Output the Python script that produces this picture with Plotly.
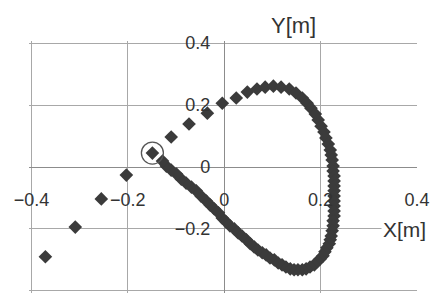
import plotly.graph_objects as go

# ---- data (metres) ----
x_m = [-0.371, -0.309, -0.255, -0.203, -0.149, -0.110, -0.073, -0.035, -0.004, 0.025, 0.048,
       0.068, 0.085, 0.102, 0.118, 0.135, 0.149, 0.162, 0.172, 0.180, 0.189, 0.195, 0.201,
       0.207, 0.211, 0.216, 0.220, 0.222, 0.224, 0.226, 0.226, 0.228, 0.228, 0.228, 0.228,
       0.228, 0.228, 0.228, 0.228, 0.228, 0.226, 0.226, 0.224, 0.222, 0.220, 0.218, 0.213,
       0.209, 0.205, 0.199, 0.193, 0.187, 0.178, 0.170, 0.162, 0.153, 0.145, 0.137, 0.128,
       0.120, 0.112, 0.104, 0.095, 0.087, 0.079, 0.070, 0.062, 0.054, 0.046, 0.037, 0.029,
       0.021, 0.012, 0.004, -0.004, -0.012, -0.021, -0.029, -0.037, -0.048, -0.058, -0.068,
       -0.079, -0.089, -0.099, -0.110, -0.120, -0.128]
y_m = [-0.290, -0.194, -0.103, -0.026, 0.045, 0.097, 0.139, 0.174, 0.206, 0.223, 0.242,
       0.252, 0.258, 0.261, 0.258, 0.252, 0.239, 0.223, 0.206, 0.190, 0.171, 0.152, 0.132,
       0.113, 0.094, 0.074, 0.055, 0.039, 0.023, 0.003, -0.013, -0.029, -0.045, -0.061, -0.077,
       -0.094, -0.110, -0.126, -0.142, -0.158, -0.174, -0.190, -0.206, -0.223, -0.235, -0.248,
       -0.261, -0.274, -0.287, -0.297, -0.306, -0.316, -0.323, -0.329, -0.332, -0.332, -0.332,
       -0.329, -0.323, -0.316, -0.310, -0.300, -0.294, -0.284, -0.277, -0.268, -0.258, -0.248,
       -0.235, -0.223, -0.213, -0.200, -0.190, -0.177, -0.165, -0.148, -0.135, -0.123, -0.110,
       -0.094, -0.077, -0.065, -0.052, -0.039, -0.023, -0.010, 0.003, 0.019]

hl_x = [-0.149]
hl_y = [0.045]

grid_x = [-0.4, -0.2, 0.0, 0.2]
tick_vals = [-0.4, -0.2, 0.0, 0.2, 0.4]
tick_text = ["\u22120.4", "\u22120.2", "0", "0.2", "0.4"]

# ranges a hair wider than +/-0.4 so the edge gridlines are kept
X_RANGE = [-0.405, 0.4]
Y_RANGE = [-0.407, 0.407]
x_zero_frac = (0 - X_RANGE[0]) / (X_RANGE[1] - X_RANGE[0])
y_zero_frac = (0 - Y_RANGE[0]) / (Y_RANGE[1] - Y_RANGE[0])

FONT = "Liberation Sans, Arial, sans-serif"
GRID = "#a8a8a8"
MARK = "#3b3b3b"
TXT = "#333333"

fig = go.Figure()
fig.add_trace(go.Scatter(
    x=x_m, y=y_m, mode="markers",
    marker=dict(symbol="diamond", size=10.5, color=MARK, line=dict(width=0)),
    xaxis="x", yaxis="y", hoverinfo="skip", showlegend=False))
fig.add_trace(go.Scatter(
    x=hl_x, y=hl_y, mode="markers",
    marker=dict(symbol="circle-open", size=22, color="#555555",
                line=dict(width=1.3, color="#555555")),
    xaxis="x2", yaxis="y", hoverinfo="skip", showlegend=False))

fig.update_layout(
    width=430, height=296,
    margin=dict(l=28.6, r=13, t=40.8, b=2.8, autoexpand=False),
    paper_bgcolor="white", plot_bgcolor="white",
    font=dict(family=FONT, size=18, color=TXT),
    showlegend=False,
    xaxis=dict(range=X_RANGE, tickvals=grid_x, showticklabels=False,
               showgrid=True, gridcolor=GRID, gridwidth=1,
               zeroline=True, zerolinecolor="#8c8c8c", zerolinewidth=1,
               showline=False, ticks="", domain=[0, 1], automargin=False),
    xaxis2=dict(range=X_RANGE, overlaying="x", anchor="free", position=y_zero_frac,
                side="bottom", tickvals=tick_vals, ticktext=tick_text,
                showgrid=False, zeroline=False, showline=False, ticks="",
                ticklabelstandoff=20, automargin=False,
                tickfont=dict(family=FONT, size=18, color=TXT)),
    yaxis=dict(range=Y_RANGE, anchor="free", position=x_zero_frac, side="left",
               tickvals=tick_vals, ticktext=tick_text,
               showgrid=True, gridcolor=GRID, gridwidth=1,
               zeroline=True, zerolinecolor="#8c8c8c", zerolinewidth=1,
               showline=False, ticks="", ticklabelstandoff=14, automargin=False,
               tickfont=dict(family=FONT, size=18, color=TXT), domain=[0, 1]),
    annotations=[
        dict(text="Y[m]", xref="paper", yref="paper", x=0.681, y=1.0626,
             xanchor="center", yanchor="middle", showarrow=False,
             font=dict(family=FONT, size=22, color=TXT)),
        dict(text="X[m]", xref="paper", yref="paper", x=0.969, y=0.2504,
             xanchor="center", yanchor="middle", showarrow=False, bgcolor="white",
             font=dict(family=FONT, size=21, color=TXT)),
    ],
)

fig.write_html("out.html",
               config={"displayModeBar": False, "staticPlot": True},
               post_script="document.body.style.margin='0';document.body.style.overflow='hidden';")
